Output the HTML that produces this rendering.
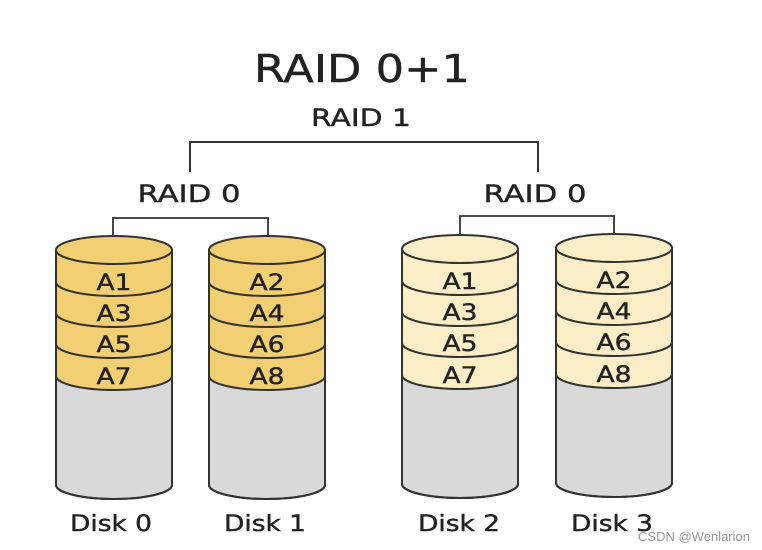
<!DOCTYPE html>
<html><head><meta charset="utf-8"><style>
html,body{margin:0;padding:0;background:#fff;}
svg{display:block;}
text{font-family:"DejaVu Sans","Liberation Sans",sans-serif;fill:#222;stroke:#222;stroke-width:0.4;}
</style></head><body>
<svg width="762" height="550" viewBox="0 0 762 550" xmlns="http://www.w3.org/2000/svg">
<text x="362" y="82" font-size="38" text-anchor="middle" textLength="216" lengthAdjust="spacingAndGlyphs">RAID 0+1</text>
<text x="361" y="126" font-size="24" text-anchor="middle" textLength="100" lengthAdjust="spacingAndGlyphs">RAID 1</text>
<path d="M190 172 V142 H538 V172" fill="none" stroke="#333" stroke-width="2"/>
<text x="189" y="202" font-size="24" text-anchor="middle" textLength="103" lengthAdjust="spacingAndGlyphs">RAID 0</text>
<text x="535" y="202" font-size="24" text-anchor="middle" textLength="103" lengthAdjust="spacingAndGlyphs">RAID 0</text>
<path d="M113 250 V218 H268 V248" fill="none" stroke="#333" stroke-width="1.8"/>
<path d="M460 248 V216 H614 V248" fill="none" stroke="#333" stroke-width="1.8"/>

<defs>
<g id="body">
<path d="M0 0 V235 A58 14 0 0 0 116 235 V0 Z" fill="#d9d9d9" stroke="#333" stroke-width="2"/>
</g>
<g id="arcs" fill="none" stroke="#333" stroke-width="2">
<path d="M0 32 A58 14 0 0 0 116 32"/>
<path d="M0 63 A58 14 0 0 0 116 63"/>
<path d="M0 94 A58 14 0 0 0 116 94"/>
<path d="M0 126 A58 14 0 0 0 116 126"/>
</g>
</defs>

<g transform="translate(56,250)">
<use href="#body"/>
<path d="M0 0 V126 A58 14 0 0 0 116 126 V0 Z" fill="#f2cf72"/>
<ellipse cx="58" cy="0" rx="58" ry="14" fill="#f2cf72" stroke="#333" stroke-width="2"/>
<use href="#arcs"/>
<path d="M0 0 V235 A58 14 0 0 0 116 235 V0" fill="none" stroke="#333" stroke-width="2"/>
<g font-size="22" text-anchor="middle"><text x="58" y="40" textLength="35" lengthAdjust="spacingAndGlyphs">A1</text><text x="58" y="71" textLength="35" lengthAdjust="spacingAndGlyphs">A3</text><text x="58" y="102" textLength="35" lengthAdjust="spacingAndGlyphs">A5</text><text x="58" y="134" textLength="35" lengthAdjust="spacingAndGlyphs">A7</text></g>
</g>
<g transform="translate(209,250)">
<use href="#body"/>
<path d="M0 0 V126 A58 14 0 0 0 116 126 V0 Z" fill="#f2cf72"/>
<ellipse cx="58" cy="0" rx="58" ry="14" fill="#f2cf72" stroke="#333" stroke-width="2"/>
<use href="#arcs"/>
<path d="M0 0 V235 A58 14 0 0 0 116 235 V0" fill="none" stroke="#333" stroke-width="2"/>
<g font-size="22" text-anchor="middle"><text x="58" y="40" textLength="35" lengthAdjust="spacingAndGlyphs">A2</text><text x="58" y="71" textLength="35" lengthAdjust="spacingAndGlyphs">A4</text><text x="58" y="102" textLength="35" lengthAdjust="spacingAndGlyphs">A6</text><text x="58" y="134" textLength="35" lengthAdjust="spacingAndGlyphs">A8</text></g>
</g>
<g transform="translate(402,249)">
<use href="#body"/>
<path d="M0 0 V126 A58 14 0 0 0 116 126 V0 Z" fill="#fbeec6"/>
<ellipse cx="58" cy="0" rx="58" ry="14" fill="#fbeec6" stroke="#333" stroke-width="2"/>
<use href="#arcs"/>
<path d="M0 0 V235 A58 14 0 0 0 116 235 V0" fill="none" stroke="#333" stroke-width="2"/>
<g font-size="22" text-anchor="middle"><text x="58" y="40" textLength="35" lengthAdjust="spacingAndGlyphs">A1</text><text x="58" y="71" textLength="35" lengthAdjust="spacingAndGlyphs">A3</text><text x="58" y="102" textLength="35" lengthAdjust="spacingAndGlyphs">A5</text><text x="58" y="134" textLength="35" lengthAdjust="spacingAndGlyphs">A7</text></g>
</g>
<g transform="translate(556,248)">
<use href="#body"/>
<path d="M0 0 V126 A58 14 0 0 0 116 126 V0 Z" fill="#fbeec6"/>
<ellipse cx="58" cy="0" rx="58" ry="14" fill="#fbeec6" stroke="#333" stroke-width="2"/>
<use href="#arcs"/>
<path d="M0 0 V235 A58 14 0 0 0 116 235 V0" fill="none" stroke="#333" stroke-width="2"/>
<g font-size="22" text-anchor="middle"><text x="58" y="40" textLength="35" lengthAdjust="spacingAndGlyphs">A2</text><text x="58" y="71" textLength="35" lengthAdjust="spacingAndGlyphs">A4</text><text x="58" y="102" textLength="35" lengthAdjust="spacingAndGlyphs">A6</text><text x="58" y="134" textLength="35" lengthAdjust="spacingAndGlyphs">A8</text></g>
</g>

<g font-size="22" text-anchor="middle">
<text x="111" y="531" textLength="82" lengthAdjust="spacingAndGlyphs">Disk 0</text>
<text x="265" y="531" textLength="82" lengthAdjust="spacingAndGlyphs">Disk 1</text>
<text x="459" y="531" textLength="82" lengthAdjust="spacingAndGlyphs">Disk 2</text>
<text x="612" y="531" textLength="82" lengthAdjust="spacingAndGlyphs">Disk 3</text>
</g>
<text x="694" y="541" font-size="13" text-anchor="middle" style="fill:#999;stroke:none;font-family:'Liberation Sans',sans-serif" textLength="112" lengthAdjust="spacingAndGlyphs">CSDN @Wenlarion</text>
</svg>
</body></html>
